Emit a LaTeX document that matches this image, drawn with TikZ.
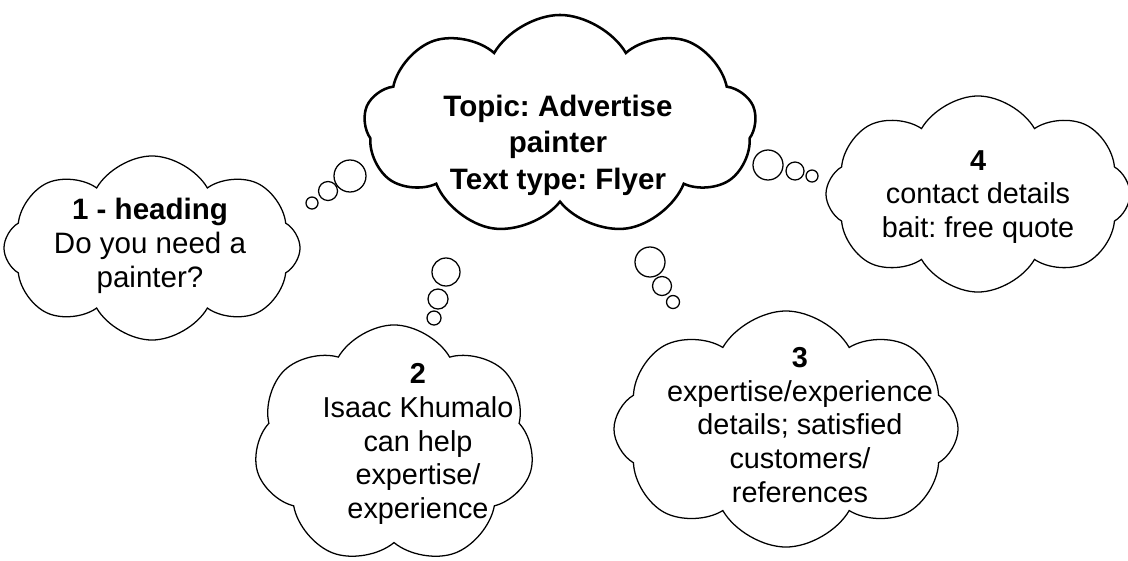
\documentclass[tikz,border=0pt]{standalone}
\usepackage{fontspec}
\setmainfont{Liberation Sans}
\usetikzlibrary{shapes.symbols}

\begin{document}
\frenchspacing
\begin{tikzpicture}[
  x=0.025cm,y=-0.025cm,
  thought/.style={draw,cloud,cloud ignores aspect,cloud puffs=9,cloud puff arc=120,line width=0.9pt,inner sep=0pt,fill=white},
  bigthought/.style={thought,line width=1.8pt},
  bubble/.style={draw,circle,inner sep=0pt,line width=0.9pt},
  txt/.style={align=center,font=\fontsize{20.5}{24}\selectfont},
  topictxt/.style={align=center,font=\fontsize{21}{26}\selectfont\bfseries}
]
\useasboundingbox (0,0) rectangle (1128,560);

% clouds
\node[bigthought,cloud puffs=9,minimum width=9.8cm,minimum height=5.5cm] (topic) at (560,125) {};
\node[thought,cloud puffs=8,minimum width=7.4cm,minimum height=4.6cm] (heading) at (152,248) {};
\node[thought,cloud puffs=8,minimum width=7.6cm,minimum height=4.9cm] (contact) at (978,194) {};
\node[thought,cloud puffs=7,minimum width=7.0cm,minimum height=6.0cm] (helper) at (394,445) {};
\node[thought,cloud puffs=8,minimum width=8.6cm,minimum height=5.9cm] (expert) at (786,429) {};

% texts
\node[txt,font=\fontsize{21}{24}\selectfont] (heading-txt) at (150,246) {\textbf{1 - heading}\\Do you need a\\painter?};
\node[topictxt] (topic-txt) at (558,145) {Topic: Advertise\\painter\\Text type: Flyer};
\node[txt] (contact-txt) at (978,197) {\textbf{4}\\contact details\\bait: free quote};
\node[txt] (helper-txt) at (418,444) {\textbf{2}\\Isaac Khumalo\\can help\\expertise/\\experience};
\node[txt] (expert-txt) at (800,425) {\textbf{3}\\expertise/experience\\details; satisfied\\customers/\\references};

% thought bubbles
\node[bubble,minimum size=0.8cm] (b1a) at (350,176) {};
\node[bubble,minimum size=0.475cm] (b1b) at (328,191) {};
\node[bubble,minimum size=0.3cm] (b1c) at (312,203) {};

\node[bubble,minimum size=0.75cm] (b4a) at (768,165) {};
\node[bubble,minimum size=0.45cm] (b4b) at (795,171) {};
\node[bubble,minimum size=0.3cm] (b4c) at (812,176) {};

\node[bubble,minimum size=0.7cm] (b2a) at (446,272) {};
\node[bubble,minimum size=0.5cm] (b2b) at (438,299) {};
\node[bubble,minimum size=0.35cm] (b2c) at (434,318) {};

\node[bubble,minimum size=0.75cm] (b3a) at (650,262) {};
\node[bubble,minimum size=0.475cm] (b3b) at (662,286) {};
\node[bubble,minimum size=0.325cm] (b3c) at (673,302) {};
\end{tikzpicture}
\end{document}
